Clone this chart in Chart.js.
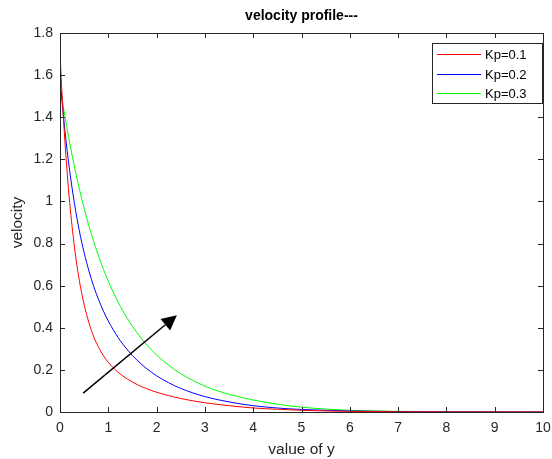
<!DOCTYPE html>
<html lang="en">
<head>
    <meta charset="UTF-8">
    <title>velocity profile---</title>
    <script src="https://cdn.jsdelivr.net/npm/chart.js"></script>
    <style>
        html, body { margin: 0; padding: 0; background: #fff; }
        #wrap { width: 552px; height: 459px; }
    </style>
</head>
<body>
<div id="wrap"><canvas id="myChart" width="552" height="459"></canvas></div>
<script>
// values
const yValues = [0, 0.05, 0.1, 0.15, 0.2, 0.3, 0.4, 0.5, 0.6, 0.7, 0.8, 0.9, 1.0, 1.2, 1.4, 1.6, 1.8, 2.0, 2.25, 2.5, 3.0, 3.5, 4.0, 4.5, 5.0, 5.5, 6, 7, 8, 9, 10];
const velKp01 = [1.700, 1.479, 1.291, 1.132, 0.996, 0.782, 0.625, 0.510, 0.423, 0.357, 0.307, 0.267, 0.236, 0.189, 0.156, 0.130, 0.110, 0.094, 0.078, 0.064, 0.044, 0.030, 0.019, 0.013, 0.008, 0.005, 0.003, 0.0012, 0.0005, 0.0002, 0.0001];
const velKp02 = [1.585, 1.456, 1.340, 1.238, 1.146, 0.989, 0.861, 0.756, 0.669, 0.595, 0.533, 0.479, 0.432, 0.355, 0.294, 0.245, 0.205, 0.172, 0.139, 0.112, 0.073, 0.048, 0.030, 0.019, 0.012, 0.008, 0.005, 0.002, 0.0008, 0.0003, 0.0001];
const velKp03 = [1.550, 1.476, 1.407, 1.341, 1.279, 1.164, 1.060, 0.967, 0.883, 0.808, 0.739, 0.677, 0.621, 0.523, 0.442, 0.375, 0.318, 0.271, 0.222, 0.182, 0.123, 0.084, 0.057, 0.037, 0.023, 0.014, 0.008, 0.003, 0.001, 0.0004, 0.0001];
const seriesNames = ['Kp=0.1', 'Kp=0.2', 'Kp=0.3'];
const seriesColors = ['#ff0000', '#0000ff', '#00ff00'];
const xTicks = [0, 1, 2, 3, 4, 5, 6, 7, 8, 9, 10];
const yTicks = [0, 0.2, 0.4, 0.6, 0.8, 1, 1.2, 1.4, 1.6, 1.8];
const arrowFrom = [0.48, 0.09];
const arrowTo = [2.42, 0.46];

const ink = '#262626';
const font = 'Arial, "Liberation Sans", sans-serif';

// box, inner ticks, labels, legend and arrow (MATLAB look)
const matlabLook = {
    id: 'matlabLook',
    afterDatasetsDraw(chart) {
        const c = chart.ctx;
        const a = chart.chartArea;
        const sx = chart.scales.x, sy = chart.scales.y;
        c.save();

        // arrow
        const x0 = sx.getPixelForValue(arrowFrom[0]), y0 = sy.getPixelForValue(arrowFrom[1]);
        const x1 = sx.getPixelForValue(arrowTo[0]), y1 = sy.getPixelForValue(arrowTo[1]);
        const ang = Math.atan2(y1 - y0, x1 - x0);
        const hl = 15, hw = 7.5;
        const bx = x1 - hl * Math.cos(ang), by = y1 - hl * Math.sin(ang);
        c.strokeStyle = '#000';
        c.lineWidth = 1.5;
        c.beginPath();
        c.moveTo(x0, y0);
        c.lineTo(bx, by);
        c.stroke();
        c.fillStyle = '#000';
        c.beginPath();
        c.moveTo(x1, y1);
        c.lineTo(bx + hw * Math.sin(ang), by - hw * Math.cos(ang));
        c.lineTo(bx - hw * Math.sin(ang), by + hw * Math.cos(ang));
        c.closePath();
        c.fill();

        // box
        c.strokeStyle = ink;
        c.lineWidth = 1;
        c.strokeRect(Math.round(a.left) + 0.5, Math.round(a.top) + 0.5,
            Math.round(a.right - a.left), Math.round(a.bottom - a.top));

        // tick marks inside
        c.beginPath();
        xTicks.forEach(v => {
            const p = Math.round(sx.getPixelForValue(v)) + 0.5;
            c.moveTo(p, a.bottom); c.lineTo(p, a.bottom - 5);
            c.moveTo(p, a.top); c.lineTo(p, a.top + 5);
        });
        yTicks.forEach(v => {
            const p = Math.round(sy.getPixelForValue(v)) + 0.5;
            c.moveTo(a.left, p); c.lineTo(a.left + 5, p);
            c.moveTo(a.right, p); c.lineTo(a.right - 5, p);
        });
        c.stroke();

        // legend
        const lx = Math.round(a.right) - 111, ly = Math.round(a.top) + 10, lw = 110, lh = 60;
        c.fillStyle = '#fff';
        c.fillRect(lx, ly, lw, lh);
        c.strokeStyle = ink;
        c.strokeRect(lx + 0.5, ly + 0.5, lw, lh);
        c.font = '13px ' + font;
        c.textBaseline = 'middle';
        c.textAlign = 'left';
        seriesNames.forEach((name, i) => {
            const yy = Math.round(ly + 11 + i * 19.5);
            c.fillStyle = seriesColors[i];
            c.fillRect(lx + 5, yy, 44, 1);
            c.fillStyle = '#000';
            c.fillText(name, lx + 53, yy + 1);
        });

        // title and axis labels
        const cx = (a.left + a.right) / 2;
        c.fillStyle = '#000';
        c.textAlign = 'center';
        c.textBaseline = 'alphabetic';
        c.font = 'bold 14px ' + font;
        c.fillText('velocity profile---', cx, 20);
        c.fillStyle = ink;
        c.font = '15.5px ' + font;
        c.fillText('value of y', cx, 454);
        c.translate(22, (a.top + a.bottom) / 2);
        c.rotate(-Math.PI / 2);
        c.fillText('velocity', 0, 0);
        c.restore();
    }
};

const series = [velKp01, velKp02, velKp03];

new Chart(document.getElementById('myChart'), {
    type: 'line',
    data: {
        datasets: series.map((vals, i) => ({
            label: seriesNames[i],
            data: vals.map((v, k) => ({ x: yValues[k], y: v })),
            borderColor: seriesColors[i],
            borderWidth: 1,
            pointRadius: 0,
            fill: false,
            cubicInterpolationMode: 'monotone'
        }))
    },
    options: {
        responsive: false,
        animation: false,
        events: [],
        layout: { padding: { left: 0, right: 9, top: 33, bottom: 0 } },
        plugins: { legend: { display: false }, title: { display: false }, tooltip: { enabled: false } },
        scales: {
            x: {
                type: 'linear',
                min: 0, max: 10,
                afterFit: s => { s.height = 47; },
                afterBuildTicks: s => { s.ticks = xTicks.map(v => ({ value: v })); },
                grid: { display: false, drawTicks: true, tickLength: 8 },
                border: { display: false },
                ticks: { color: ink, font: { size: 14, family: font }, padding: 0, maxRotation: 0 }
            },
            y: {
                min: 0, max: 1.8,
                afterFit: s => { s.width = 60; },
                afterBuildTicks: s => { s.ticks = yTicks.map(v => ({ value: v })); },
                grid: { display: false, drawTicks: false },
                border: { display: false },
                ticks: {
                    color: ink, font: { size: 14, family: font }, padding: 7,
                    callback: v => String(+v.toFixed(1))
                }
            }
        }
    },
    plugins: [matlabLook]
});
</script>
</body>
</html>
